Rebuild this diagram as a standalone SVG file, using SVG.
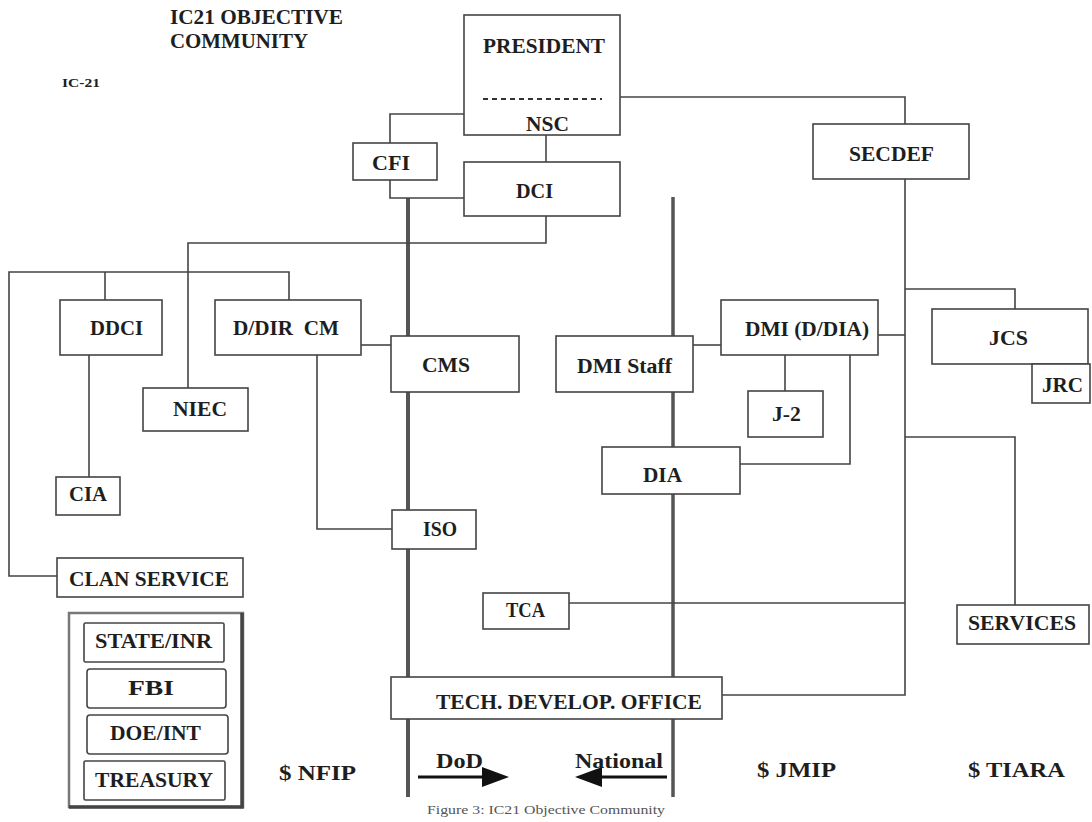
<svg xmlns="http://www.w3.org/2000/svg" width="1092" height="822" viewBox="0 0 1092 822">
<style>
.bx{fill:#fff;stroke:#444;stroke-width:1.6}
.ln{fill:none;stroke:#444;stroke-width:1.6}
.thk{fill:none;stroke:#555;stroke-width:4}
.t{font-family:'Liberation Serif','DejaVu Serif',serif;font-weight:700;font-size:20px;fill:#1e1e1e}
.cap{font-family:'Liberation Serif','DejaVu Serif',serif;font-size:12px;fill:#555}
</style>
<defs>
<marker id="ah" markerUnits="userSpaceOnUse" markerWidth="30" markerHeight="22" refX="0" refY="10" orient="auto">
<path d="M0,0 L27,10 L0,20 z" fill="#111"/>
</marker>
</defs>
<rect width="1092" height="822" fill="#fff"/>
<g id="titles">
<text class="t" x="170" y="24" textLength="173" lengthAdjust="spacingAndGlyphs">IC21 OBJECTIVE</text>
<text class="t" x="170" y="48" textLength="138" lengthAdjust="spacingAndGlyphs">COMMUNITY</text>
<text class="t" x="62" y="87" style="font-size:12px" textLength="38" lengthAdjust="spacingAndGlyphs">IC-21</text>
</g>
<g id="connectors">
<path class="thk" d="M408,198 V797"/>
<path class="thk" d="M673,197 V797" style="stroke-width:3.5"/>
<path class="ln" d="M464,114 H390 V143"/>
<path class="ln" d="M390,180 V198 H464"/>
<path class="ln" d="M546,135 V162"/>
<path class="ln" d="M620,97 H905 V124"/>
<path class="ln" d="M546,216 V243 H188 V388"/>
<path class="ln" d="M57,576 H9 V272 H289 V300"/>
<path class="ln" d="M105,272 V300"/>
<path class="ln" d="M89,355 V477"/>
<path class="ln" d="M361,345 H391"/>
<path class="ln" d="M317,355 V529 H392"/>
<path class="ln" d="M693,345 H721"/>
<path class="ln" d="M878,335 H905"/>
<path class="ln" d="M905,179 V695 H722"/>
<path class="ln" d="M905,289 H1015 V309"/>
<path class="ln" d="M905,437 H1015 V605"/>
<path class="ln" d="M785,354 V391"/>
<path class="ln" d="M850,354 V464 H740"/>
<path class="ln" d="M569,603 H905"/>
<path d="M418,777 H482" stroke="#111" stroke-width="3" marker-end="url(#ah)"/>
<path d="M667,777 H602" stroke="#111" stroke-width="3" marker-end="url(#ah)"/>
</g>
<g id="president">
<rect class="bx" x="464" y="15" width="156" height="120"/>
<text class="t" x="483" y="53" textLength="122" lengthAdjust="spacingAndGlyphs">PRESIDENT</text>
<path d="M483,99 H602" stroke="#333" stroke-width="2" stroke-dasharray="5,4"/>
<text class="t" x="526" y="131" textLength="43" lengthAdjust="spacingAndGlyphs">NSC</text>
</g>
<g id="cfi"><rect class="bx" x="353" y="143" width="84" height="37"/><text class="t" x="372" y="170" textLength="38" lengthAdjust="spacingAndGlyphs">CFI</text></g>
<g id="dci"><rect class="bx" x="464" y="162" width="156" height="54"/><text class="t" x="516" y="198" textLength="37" lengthAdjust="spacingAndGlyphs">DCI</text></g>
<g id="secdef"><rect class="bx" x="813" y="124" width="156" height="55"/><text class="t" x="849" y="161" textLength="85" lengthAdjust="spacingAndGlyphs">SECDEF</text></g>
<g id="ddci"><rect class="bx" x="60" y="300" width="102" height="55"/><text class="t" x="90" y="335" textLength="53" lengthAdjust="spacingAndGlyphs">DDCI</text></g>
<g id="ddircm"><rect class="bx" x="215" y="300" width="146" height="55"/><text class="t" x="233" y="335" textLength="106" lengthAdjust="spacingAndGlyphs" xml:space="preserve">D/DIR  CM</text></g>
<g id="niec"><rect class="bx" x="143" y="388" width="105" height="43"/><text class="t" x="173" y="416" textLength="54" lengthAdjust="spacingAndGlyphs">NIEC</text></g>
<g id="cia"><rect class="bx" x="56" y="477" width="64" height="38"/><text class="t" x="69" y="501" textLength="38" lengthAdjust="spacingAndGlyphs">CIA</text></g>
<g id="cms"><rect class="bx" x="391" y="336" width="128" height="56"/><text class="t" x="422" y="372" textLength="48" lengthAdjust="spacingAndGlyphs">CMS</text></g>
<g id="iso"><rect class="bx" x="392" y="510" width="84" height="39"/><text class="t" x="423" y="536" textLength="34" lengthAdjust="spacingAndGlyphs">ISO</text></g>
<g id="clan"><rect class="bx" x="57" y="558" width="186" height="39"/><text class="t" x="69" y="586" textLength="160" lengthAdjust="spacingAndGlyphs">CLAN SERVICE</text></g>
<g id="dmistaff"><rect class="bx" x="556" y="336" width="137" height="56"/><text class="t" x="577" y="373" textLength="95" lengthAdjust="spacingAndGlyphs">DMI Staff</text></g>
<g id="dmi"><rect class="bx" x="721" y="300" width="157" height="55"/><text class="t" x="745" y="336" textLength="124" lengthAdjust="spacingAndGlyphs">DMI (D/DIA)</text></g>
<g id="j2"><rect class="bx" x="748" y="391" width="75" height="46"/><text class="t" x="772" y="421" textLength="29" lengthAdjust="spacingAndGlyphs">J-2</text></g>
<g id="dia"><rect class="bx" x="602" y="447" width="138" height="47"/><text class="t" x="643" y="482" textLength="39" lengthAdjust="spacingAndGlyphs">DIA</text></g>
<g id="jcs"><rect class="bx" x="932" y="309" width="156" height="55"/><text class="t" x="989" y="345" textLength="39" lengthAdjust="spacingAndGlyphs">JCS</text></g>
<g id="jrc"><rect class="bx" x="1032" y="364" width="58" height="39"/><text class="t" x="1042" y="392" textLength="41" lengthAdjust="spacingAndGlyphs">JRC</text></g>
<g id="services"><rect class="bx" x="957" y="605" width="132" height="39"/><text class="t" x="968" y="630" textLength="108" lengthAdjust="spacingAndGlyphs">SERVICES</text></g>
<g id="tca"><rect class="bx" x="483" y="593" width="86" height="36"/><text class="t" x="506" y="617" textLength="39" lengthAdjust="spacingAndGlyphs">TCA</text></g>
<g id="tdo"><rect class="bx" x="391" y="677" width="331" height="42"/><text class="t" x="436" y="709" textLength="266" lengthAdjust="spacingAndGlyphs">TECH. DEVELOP. OFFICE</text></g>
<g id="legend">
<rect x="69" y="613" width="174" height="194" fill="#fff" stroke="#777" stroke-width="2.5"/>
<path d="M242,613 V807 H69" fill="none" stroke="#444" stroke-width="3.5"/>
<rect class="bx" x="84" y="623" width="140" height="39" rx="1.5"/>
<text class="t" x="95" y="648" textLength="117" lengthAdjust="spacingAndGlyphs">STATE/INR</text>
<rect class="bx" x="87" y="669" width="139" height="39" rx="3"/>
<text class="t" x="128" y="695" textLength="46" lengthAdjust="spacingAndGlyphs">FBI</text>
<rect class="bx" x="87" y="715" width="141" height="39" rx="3"/>
<text class="t" x="110" y="740" textLength="91" lengthAdjust="spacingAndGlyphs">DOE/INT</text>
<rect class="bx" x="84" y="761" width="141" height="39" rx="1.5"/>
<text class="t" x="95" y="787" textLength="118" lengthAdjust="spacingAndGlyphs">TREASURY</text>
</g>
<g id="labels">
<text class="t" x="279" y="780" textLength="77" lengthAdjust="spacingAndGlyphs">$ NFIP</text>
<text class="t" x="757" y="777" textLength="79" lengthAdjust="spacingAndGlyphs">$ JMIP</text>
<text class="t" x="968" y="777" textLength="97" lengthAdjust="spacingAndGlyphs">$ TIARA</text>
<text class="t" x="436" y="768" textLength="47" lengthAdjust="spacingAndGlyphs">DoD</text>
<text class="t" x="575" y="768" textLength="88" lengthAdjust="spacingAndGlyphs">National</text>
<text class="cap" x="427" y="814" textLength="238" lengthAdjust="spacingAndGlyphs">Figure 3:  IC21 Objective Community</text>
</g>
</svg>
